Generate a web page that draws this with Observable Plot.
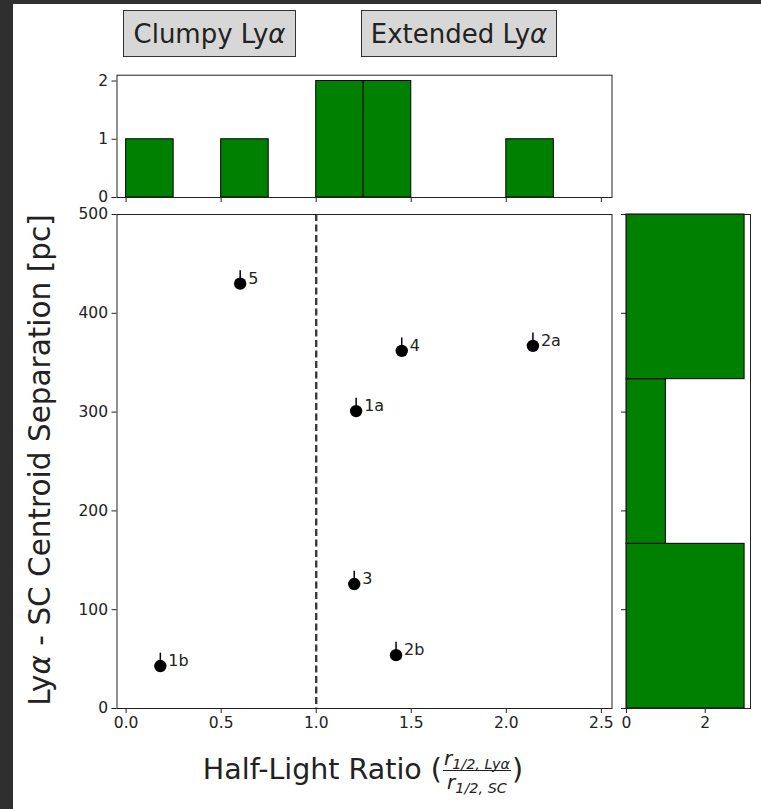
<!DOCTYPE html>
<html>
<head>
<meta charset="utf-8">
<script src="https://cdn.jsdelivr.net/npm/d3@7"></script>
<script src="https://cdn.jsdelivr.net/npm/@observablehq/plot@0.6"></script>
<style>
  html, body { margin: 0; padding: 0; background: #ffffff; }
  body { width: 761px; height: 809px; position: relative; overflow: hidden; font-family: "DejaVu Sans", sans-serif; color: #222; }
  .strip { position: absolute; background: #2f2f2f; }
  .tag { position: absolute; box-sizing: border-box; border: 1.5px solid #333; background: #d7d7d7;
         display: flex; align-items: center; justify-content: center; font-size: 26px; color: #222; white-space: nowrap; }
  .plotbox { position: absolute; }
  .plotbox svg { font-size: 15.5px; font-family: "DejaVu Sans", sans-serif; }
  #ylabel { position: absolute; left: -210px; top: 443px; width: 500px; height: 34px; line-height: 34px;
            text-align: center; font-size: 29.5px; transform: rotate(-90deg); white-space: nowrap; }
  #xlabel { position: absolute; left: 0px; width: 726px; top: 748px; text-align: center; font-size: 28.5px; white-space: nowrap; line-height: 1.2; }
  .frac { display: inline-block; vertical-align: middle; text-align: center; font-size: 20px; line-height: 1.05; font-style: italic; margin: 0 1px; }
  .frac .num { display: block; border-bottom: 1.3px solid #222; padding: 0 1px 1px 1px; }
  .frac .den { display: block; padding-top: 1px; }
  .frac .sb { font-size: 0.72em; position: relative; top: 0.3em; }
</style>
</head>
<body>
<div class="strip" style="left:0;top:0;width:13px;height:809px"></div>
<div class="strip" style="left:0;top:0;width:761px;height:4px"></div>

<div class="tag" style="left:123px;top:10px;width:173px;height:47px">Clumpy Ly<i>α</i></div>
<div class="tag" style="left:361px;top:10px;width:196px;height:47px">Extended Ly<i>α</i></div>

<div id="top" class="plotbox" style="left:60px;top:60px"></div>
<div id="main" class="plotbox" style="left:60px;top:200px"></div>
<div id="right" class="plotbox" style="left:620px;top:200px"></div>

<div id="ylabel">Ly<i>α</i> - SC Centroid Separation [pc]</div>
<div id="xlabel">Half-Light Ratio (<span class="frac"><span class="num">r<span class="sb">1/2, Lyα</span></span><span class="den">r<span class="sb">1/2, SC</span></span></span>)</div>

<script>
// ---- data ----
const pointLabels    = ["1a", "1b", "2a", "2b", "3", "4", "5"];
const halfLightRatio = [1.21, 0.18, 2.14, 1.42, 1.20, 1.45, 0.60];
const centroidSepPc  = [301, 43, 367, 54, 126, 362, 430];
const sepErrUpper    = [13, 13, 13, 13, 13, 13, 13];

const ratioBinEdges  = [0, 0.25, 0.5, 0.75, 1.0, 1.25, 1.5, 1.75, 2.0, 2.25, 2.5];
const sepBinEdges    = [0, 166.67, 333.33, 500];
const dividerRatio   = [1.0];

const ratioTicks     = [0, 0.5, 1.0, 1.5, 2.0, 2.5];
const sepTicks       = [0, 100, 200, 300, 400, 500];
const topCountTicks  = [0, 1, 2];
const rightCountTicks = [0, 2];

const ratioDomain = [-0.048, 2.556];
const sepDomain = [0, 500];

// ---- derived tables ----
const points = pointLabels.map((name, i) => ({
  name, x: halfLightRatio[i], y: centroidSepPc[i], yTop: centroidSepPc[i] + sepErrUpper[i]
}));
const ratioBins = d3.bin().domain([ratioBinEdges[0], ratioBinEdges[ratioBinEdges.length - 1]])
  .thresholds(ratioBinEdges.slice(1, -1))(halfLightRatio).filter(b => b.length > 0);
const sepBins = d3.bin().domain([sepBinEdges[0], sepBinEdges[sepBinEdges.length - 1]])
  .thresholds(sepBinEdges.slice(1, -1))(centroidSepPc).filter(b => b.length > 0);

const baseStyle = { fontFamily: "DejaVu Sans", fontSize: "15.5px", background: "transparent", overflow: "visible", color: "#222" };
const green = "#008000";

function place(id, el) {
  el.style.position = "absolute";
  el.style.left = "0px";
  el.style.top = "0px";
  el.style.maxWidth = "none";
  document.getElementById(id).appendChild(el);
}

// top histogram
place("top", Plot.plot({
  width: 560, height: 150,
  marginLeft: 56.5, marginRight: 8.5, marginTop: 14.7, marginBottom: 13,
  style: baseStyle,
  x: { domain: ratioDomain, ticks: ratioTicks, tickFormat: () => "", tickSize: 5, tickPadding: 2, label: null },
  y: { domain: [0, 2.1], ticks: topCountTicks, tickFormat: "d", tickSize: 5, tickPadding: 4, label: null },
  marks: [
    Plot.rectY(ratioBins, { x1: d => d.x0, x2: d => d.x1, y: d => d.length, fill: green, stroke: "black", strokeWidth: 1 }),
    Plot.frame({ stroke: "#222", strokeWidth: 1 })
  ]
}));

// main scatter
place("main", Plot.plot({
  width: 560, height: 540,
  marginLeft: 56.5, marginRight: 8.5, marginTop: 14, marginBottom: 32,
  style: baseStyle,
  x: { domain: ratioDomain, ticks: ratioTicks, tickFormat: ".1f", tickSize: 5, tickPadding: 3, label: null },
  y: { domain: sepDomain, ticks: sepTicks, tickFormat: "d", tickSize: 5, tickPadding: 4, label: null },
  marks: [
    Plot.ruleX(dividerRatio, { stroke: "#3a3a3a", strokeWidth: 2.4, strokeDasharray: "7,3.5" }),
    Plot.ruleX(points, { x: "x", y1: "y", y2: "yTop", stroke: "black", strokeWidth: 1.5 }),
    Plot.dot(points, { x: "x", y: "y", r: 6.2, fill: "black", stroke: "none" }),
    Plot.text(points, { x: "x", y: "y", text: "name", dx: 8, dy: -5, textAnchor: "start", fontSize: 16, fill: "#222" }),
    Plot.frame({ stroke: "#222", strokeWidth: 1 })
  ]
}));

// right histogram
place("right", Plot.plot({
  width: 141, height: 540,
  marginLeft: 6, marginRight: 11, marginTop: 14, marginBottom: 32,
  style: baseStyle,
  x: { domain: [0, 3.15], ticks: rightCountTicks, tickFormat: "d", tickSize: 5, tickPadding: 3, label: null },
  y: { domain: sepDomain, ticks: sepTicks, tickFormat: () => "", tickSize: 5, tickPadding: 2, label: null },
  marks: [
    Plot.rectX(sepBins, { y1: d => d.x0, y2: d => d.x1, x: d => d.length, fill: green, stroke: "black", strokeWidth: 1 }),
    Plot.frame({ stroke: "#222", strokeWidth: 1 })
  ]
}));
</script>
</body>
</html>
